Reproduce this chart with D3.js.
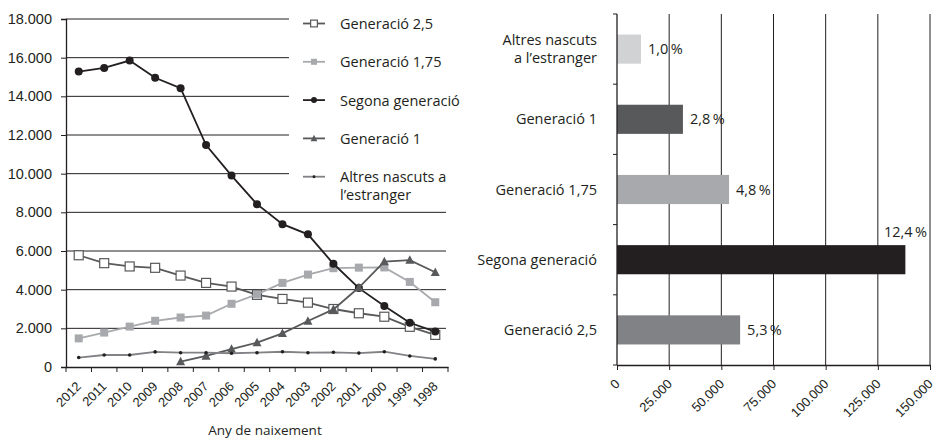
<!DOCTYPE html>
<html>
<head>
<meta charset="utf-8">
<script src="https://cdn.jsdelivr.net/npm/d3@7"></script>
<style>
  body { margin: 0; background: #fff; }
  svg { display: block; font-family: "Open Sans", sans-serif; }
  .tick text { fill: #231f20; }
</style>
</head>
<body>
<div id="chart"></div>
<script>
'use strict';

// ── Data ──────────────────────────────────────────────────────────────────────
const years = ['2012', '2011', '2010', '2009', '2008', '2007', '2006', '2005',
               '2004', '2003', '2002', '2001', '2000', '1999', '1998'];

const gen25    = [5780, 5370, 5200, 5130, 4730, 4350, 4160, 3730, 3520, 3330, 3000, 2780, 2600, 2080, 1660];
const gen175   = [1480, 1780, 2090, 2390, 2560, 2660, 3270, 3760, 4350, 4780, 5110, 5140, 5150, 4400, 3350];
const segona   = [15280, 15470, 15850, 14960, 14420, 11480, 9900, 8420, 7390, 6860, 5340, 4080, 3160, 2290, 1830];
const gen1     = [null, null, null, null, 280, 570, 920, 1260, 1740, 2380, 2980, 4110, 5450, 5530, 4900];
const altres   = [490, 620, 620, 780, 740, 740, 710, 740, 790, 740, 760, 720, 790, 570, 420];

const yTicks = [0, 2000, 4000, 6000, 8000, 10000, 12000, 14000, 16000, 18000];

const barCats   = ['Altres nascuts a l\u2019estranger', 'Generació 1', 'Generació 1,75',
                   'Segona generació', 'Generació 2,5'];
const barValues = [11500, 31600, 53700, 138200, 59000];
const barPct    = ['1,0', '2,8', '4,8', '12,4', '5,3'];
const xTicks    = [0, 25000, 50000, 75000, 100000, 125000, 150000];

// ── Styles ────────────────────────────────────────────────────────────────────
const INK = '#231f20';
const FS  = 14.5;
const series = [
  { name: 'Generació 2,5',   values: gen25,  line: '#58595b', shape: 'square', fill: '#fff',    stroke: '#58595b', size: 9 },
  { name: 'Generació 1,75',  values: gen175, line: '#a7a9ac', shape: 'square', fill: '#a7a9ac', stroke: 'none',    size: 8 },
  { name: 'Segona generació', values: segona, line: INK,      shape: 'circle', fill: INK,       stroke: 'none',    size: 4 },
  { name: 'Generació 1',     values: gen1,   line: '#58595b', shape: 'tri',    fill: '#58595b', stroke: 'none',    size: 9 },
  { name: 'Altres nascuts a|l\u2019estranger', values: altres, line: '#808285', shape: 'dot', fill: INK, stroke: 'none', size: 1.8 }
];
const barColors = ['#d1d2d3', '#58595b', '#a7a9ac', INK, '#808285'];

const W = 936, H = 439;
const svg = d3.select('#chart').append('svg')
  .attr('width', W).attr('height', H);

const fmtNum = d3.formatLocale({ decimal: ',', thousands: '.', grouping: [3], currency: ['', ''] }).format(',d');

// rotated tick labels: end of the text sits just under the tick
function slantLabels(axisG, dy) {
  axisG.selectAll('.tick text')
    .attr('font-size', 13)
    .attr('x', 0).attr('y', 0)
    .attr('dy', '0.35em')
    .attr('text-anchor', 'end')
    .attr('transform', `translate(0,${dy}) rotate(-45)`);
}

// ── Left: line chart ─────────────────────────────────────────────────────────
const L = { left: 66, right: 448, top: 19, bottom: 367 };

const x = d3.scaleBand().domain(years).range([L.left, L.right]);
const y = d3.scaleLinear().domain([0, 18000]).range([L.bottom, L.top]);
const cx = d => x(d) + x.bandwidth() / 2;

const left = svg.append('g');

// gridlines
left.append('g').selectAll('line')
  .data(yTicks.slice(1))
  .join('line')
  .attr('x1', L.left).attr('x2', L.right - 2)
  .attr('y1', d => y(d)).attr('y2', d => y(d))
  .attr('stroke', INK).attr('stroke-width', 1);

// y axis
const yAxisG = left.append('g')
  .attr('transform', `translate(${L.left},0)`)
  .call(d3.axisLeft(y).tickValues(yTicks).tickFormat(fmtNum).tickSizeOuter(0).tickSize(5).tickPadding(9));
yAxisG.selectAll('text').attr('font-size', FS);

// x axis (labels at centres, ticks at band edges)
const xAxisG = left.append('g')
  .attr('transform', `translate(0,${L.bottom})`)
  .call(d3.axisBottom(x).tickSize(0).tickSizeOuter(0));
slantLabels(xAxisG, 17);
xAxisG.selectAll('.edge')
  .data(years.map(d => x(d)).concat([L.right]))
  .join('line')
  .attr('class', 'edge')
  .attr('x1', d => d).attr('x2', d => d)
  .attr('y1', 0).attr('y2', 5)
  .attr('stroke', INK);
left.selectAll('.domain').attr('stroke', INK).attr('stroke-width', 1.3);
left.selectAll('.tick line').attr('stroke', INK);

left.append('text')
  .attr('x', 265).attr('y', 435)
  .attr('text-anchor', 'middle').attr('font-size', 13.5).attr('fill', INK)
  .text('Any de naixement');

function marker(g, s, px, py, scale) {
  const k = scale || 1;
  const sz = s.size * k;
  if (s.shape === 'square') {
    g.append('rect')
      .attr('x', px - sz / 2).attr('y', py - sz / 2)
      .attr('width', sz).attr('height', sz)
      .attr('fill', s.fill).attr('stroke', s.stroke).attr('stroke-width', 1.2);
  } else if (s.shape === 'circle' || s.shape === 'dot') {
    g.append('circle').attr('cx', px).attr('cy', py).attr('r', sz).attr('fill', s.fill);
  } else if (s.shape === 'tri') {
    const h = sz * 0.9;
    g.append('path')
      .attr('d', `M${px},${py - h * 0.6}L${px + sz / 2},${py + h * 0.45}L${px - sz / 2},${py + h * 0.45}Z`)
      .attr('fill', s.fill);
  }
}

const plot = left.append('g');
series.forEach(s => {
  const line = d3.line()
    .defined(d => d[1] != null)
    .x(d => cx(d[0]))
    .y(d => y(d[1]));
  const pts = years.map((yr, i) => [yr, s.values[i]]);
  plot.append('path')
    .datum(pts)
    .attr('d', line)
    .attr('fill', 'none')
    .attr('stroke', s.line)
    .attr('stroke-width', 1.8);
  const mg = plot.append('g');
  pts.filter(d => d[1] != null).forEach(d => marker(mg, s, cx(d[0]), y(d[1])));
});

// legend (white box over the upper right part of the plot)
const lg = left.append('g');
lg.append('rect')
  .attr('x', 289).attr('y', 4).attr('width', 170).attr('height', 202)
  .attr('fill', '#fff');
series.forEach((s, i) => {
  const ly = 23.5 + i * 38.3;
  const g = lg.append('g');
  g.append('line')
    .attr('x1', 303).attr('x2', 325).attr('y1', ly).attr('y2', ly)
    .attr('stroke', s.line).attr('stroke-width', 1.8);
  marker(g, s, 314, ly, s.shape === 'dot' ? 0.8 : 0.75);
  const t = g.append('text')
    .attr('x', 340).attr('y', ly + 5.5)
    .attr('font-size', FS).attr('fill', INK);
  s.name.split('|').forEach((part, j) => {
    t.append('tspan').attr('x', 340).attr('dy', j === 0 ? 0 : 17.5).text(part);
  });
});

// ── Right: bar chart ─────────────────────────────────────────────────────────
const R = { left: 617, right: 930, top: 14, bottom: 365 };

const bx = d3.scaleLinear().domain([0, 150000]).range([R.left, R.right]);
const by = d3.scaleBand().domain(barCats).range([R.top, R.bottom])
  .paddingInner(0.585).paddingOuter(0.2925);

const right = svg.append('g');

// vertical gridlines
right.append('g').selectAll('line')
  .data(xTicks.slice(1))
  .join('line')
  .attr('x1', d => bx(d)).attr('x2', d => bx(d))
  .attr('y1', R.top).attr('y2', R.bottom)
  .attr('stroke', INK).attr('stroke-width', 1);

// bars
right.append('g').selectAll('rect')
  .data(barCats)
  .join('rect')
  .attr('x', bx(0))
  .attr('y', d => by(d))
  .attr('width', (d, i) => bx(barValues[i]) - bx(0))
  .attr('height', by.bandwidth())
  .attr('fill', (d, i) => barColors[i]);

// value labels
right.append('g').selectAll('text')
  .data(barCats)
  .join('text')
  .attr('font-size', FS).attr('fill', INK)
  .each(function (d, i) {
    const t = d3.select(this);
    const end = bx(barValues[i]);
    const mid = by(d) + by.bandwidth() / 2;
    if (end > bx(120000)) {
      t.attr('x', R.right - 3).attr('y', by(d) - 8).attr('text-anchor', 'end');
    } else {
      t.attr('x', end + 7).attr('y', mid + 5);
    }
  })
  .text((d, i) => barPct[i] + '\u2009%');

// y axis: ticks at band edges, category labels
const edges = barCats.map(d => by(d) - by.step() * by.paddingInner() / 2)
  .concat([R.bottom]);
edges[0] = R.top;
right.append('line')
  .attr('x1', R.left).attr('x2', R.left)
  .attr('y1', R.top).attr('y2', R.bottom)
  .attr('stroke', INK).attr('stroke-width', 1.3);
right.append('g').selectAll('line')
  .data(edges)
  .join('line')
  .attr('x1', R.left - 4).attr('x2', R.left)
  .attr('y1', d => d).attr('y2', d => d)
  .attr('stroke', INK);

right.append('g').selectAll('text')
  .data(barCats)
  .join('text')
  .attr('text-anchor', 'end')
  .attr('font-size', FS).attr('fill', INK)
  .each(function (d) {
    const t = d3.select(this);
    const mid = by(d) + by.bandwidth() / 2;
    const parts = d.startsWith('Altres') ? ['Altres nascuts', 'a l\u2019estranger'] : [d];
    const y0 = mid + 5 - (parts.length - 1) * 8.75;
    parts.forEach((p, j) => {
      t.append('tspan').attr('x', 597).attr('y', y0 + j * 17.5).text(p);
    });
  });

// x axis
const bxAxis = right.append('g')
  .attr('transform', `translate(0,${R.bottom})`)
  .call(d3.axisBottom(bx).tickValues(xTicks).tickFormat(fmtNum).tickSize(5).tickSizeOuter(0));
slantLabels(bxAxis, 16.5);
bxAxis.select('.domain').attr('stroke', INK).attr('stroke-width', 1.3);
bxAxis.selectAll('.tick line').attr('stroke', INK);
</script>
</body>
</html>
